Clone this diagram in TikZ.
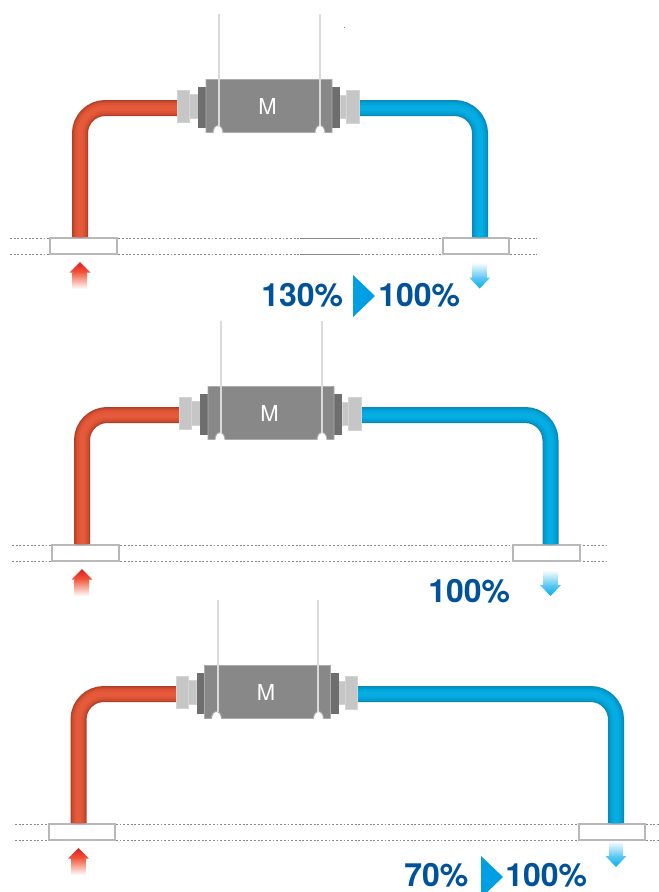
\documentclass[tikz,border=0pt]{standalone}
\usepackage{fontspec}
\setmainfont{TeX Gyre Heros}
\definecolor{redA}{HTML}{B03F27}
\definecolor{redB}{HTML}{CB4B2F}
\definecolor{redC}{HTML}{DD5435}
\definecolor{redD}{HTML}{E45A3B}
\definecolor{bluA}{HTML}{0A88B8}
\definecolor{bluB}{HTML}{029ACD}
\definecolor{bluC}{HTML}{00A6DB}
\definecolor{bluD}{HTML}{05ADE3}
\definecolor{bodyG}{HTML}{888888}
\definecolor{edgeG}{HTML}{ABABAB}
\definecolor{flangeG}{HTML}{6E6E6E}
\definecolor{collarG}{HTML}{C6C6C6}
\definecolor{collarE}{HTML}{D4D4D4}
\definecolor{wireG}{HTML}{DADADA}
\definecolor{boxG}{HTML}{B8B8B8}
\definecolor{dotG}{HTML}{8A8A8A}
\definecolor{pctB}{HTML}{00529B}
\definecolor{triB}{HTML}{009FE3}
\definecolor{arrR}{HTML}{DF1A1F}
\definecolor{arrRm}{HTML}{F2583C}
\definecolor{arrB}{HTML}{00AEEF}
\definecolor{arrBm}{HTML}{5CC8F2}
\tikzset{
  x=0.75pt,y=-0.75pt,
  footbox/.style={draw=boxG,line width=1.7pt,fill=white,minimum width=50pt,minimum height=11.6pt,inner sep=0pt,outer sep=0pt},
  dotline/.style={draw=dotG,line width=0.7pt,dash pattern=on 1.4pt off 1.4pt},
  motortext/.style={text=white,font=\fontsize{16.5}{18}\selectfont,inner sep=0pt},
  pcttext/.style={text=pctB,font=\fontsize{24}{26}\selectfont\bfseries,inner sep=0pt,anchor=base west},
  wire/.style={draw=wireG,line width=1.5pt},
  collar/.style={fill=collarG,draw=collarE,line width=0.7pt},
  rounded pipe/.style={rounded corners=19pt,line cap=butt,line join=round},
}
% #1 prefix, #2 dx, #3 dy, #4 right pipe centre x, #5 left end of dotted lines (all in unit coordinates)
\newcommand{\pipeunit}[5]{%
\begin{scope}[shift={(#2,#3)}]
  \coordinate (#1dl) at (#5,238);
  \coordinate (#1dr) at (#4+57,238);
  \coordinate (#1el) at (#5,254);
  \coordinate (#1er) at (#4+57,254);
  \draw[dotline] (#1dl) -- (#1dr);
  \draw[dotline] (#1el) -- (#1er);
  \node[footbox] (#1fl) at (83.5,246) {};
  \node[footbox] (#1fr) at (#4-4,246) {};
  \coordinate (#1pl) at (178,108);
  \coordinate (#1pr) at (358,108);
  \foreach \w/\c in {16/redA,13.5/redB,10/redC,5.5/redD}{
    \draw[rounded pipe,draw=\c,line width=\w*0.75pt] (80,237) |- (#1pl);
  }
  \foreach \w/\c in {16/bluA,13.5/bluB,10/bluC,5.5/bluD}{
    \draw[rounded pipe,draw=\c,line width=\w*0.75pt] (#1pr) -| (#4,237);
  }
  \draw[collar] (189,94) rectangle (198,118);
  \draw[collar] (177.5,90) rectangle (189.5,122);
  \draw[collar] (340,95) rectangle (347,118);
  \draw[collar] (346.5,90.5) rectangle (359,123);
  \fill[flangeG] (198,87) rectangle (206,128);
  \fill[flangeG] (332,87) rectangle (340,128);
  \draw[fill=bodyG,draw=edgeG,line width=0.7pt]
    (206,79.5) -- (332,79.5) -- (332,132.5) -- (325,132.5)
    arc[start angle=0,end angle=-180,x radius=5,y radius=7] -- (223,132.5)
    arc[start angle=0,end angle=-180,x radius=5,y radius=7] -- (206,132.5) -- cycle;
  \coordinate (#1wa) at (219,14);
  \coordinate (#1wb) at (219,126);
  \coordinate (#1wc) at (319.5,14);
  \coordinate (#1wd) at (319.5,126);
  \draw[wire] (#1wa) -- (#1wb);
  \draw[wire] (#1wc) -- (#1wd);
  \node[motortext] (#1m) at (267.5,106) {M};
  \shade[top color=arrRm,bottom color=white] (72.5,272) rectangle (87,289);
  \shade[top color=arrR,bottom color=arrRm]
    (80,262) -- (90.5,272.5) -- (69.5,272.5) -- cycle;
\end{scope}}
% #1 x, #2 y: blue arrow tip
\newcommand{\bluearrow}[2]{%
  \shade[top color=white,bottom color=arrBm] (#1-7,#2-26) rectangle (#1+7,#2-10.5);
  \shade[top color=arrBm,bottom color=arrB]
    (#1,#2) -- (#1-10.5,#2-11) -- (#1+10.5,#2-11) -- cycle;
}
\begin{document}
\begin{tikzpicture}
\useasboundingbox (0,0) rectangle (659,892);
\fill[white] (0,0) rectangle (659,892);

\pipeunit{a}{0}{0}{480}{10}
\draw[draw=dotG,line width=0.7pt] (300,238) -- (360,238) (300,254) -- (360,254);
\bluearrow{479.7}{288.5}
\node[pcttext] (a1) at (261,306) {130\%};
\fill[triB] (353,275) -- (375,296) -- (353,317) -- cycle;
\node[pcttext] (a2) at (378,306) {100\%};
\fill[dotG] (343.5,27) rectangle (345,27.8);

\pipeunit{b}{2}{307}{548.5}{10}
\bluearrow{550.5}{596}
\node[pcttext] (b1) at (428,602) {100\%};

\pipeunit{c}{-1.5}{586}{617.5}{16.5}
\bluearrow{616}{867}
\node[pcttext] (c1) at (404,886) {70\%};
\fill[triB] (481,856) -- (503,877) -- (481,898) -- cycle;
\node[pcttext] (c2) at (505,886) {100\%};
\end{tikzpicture}
\end{document}
